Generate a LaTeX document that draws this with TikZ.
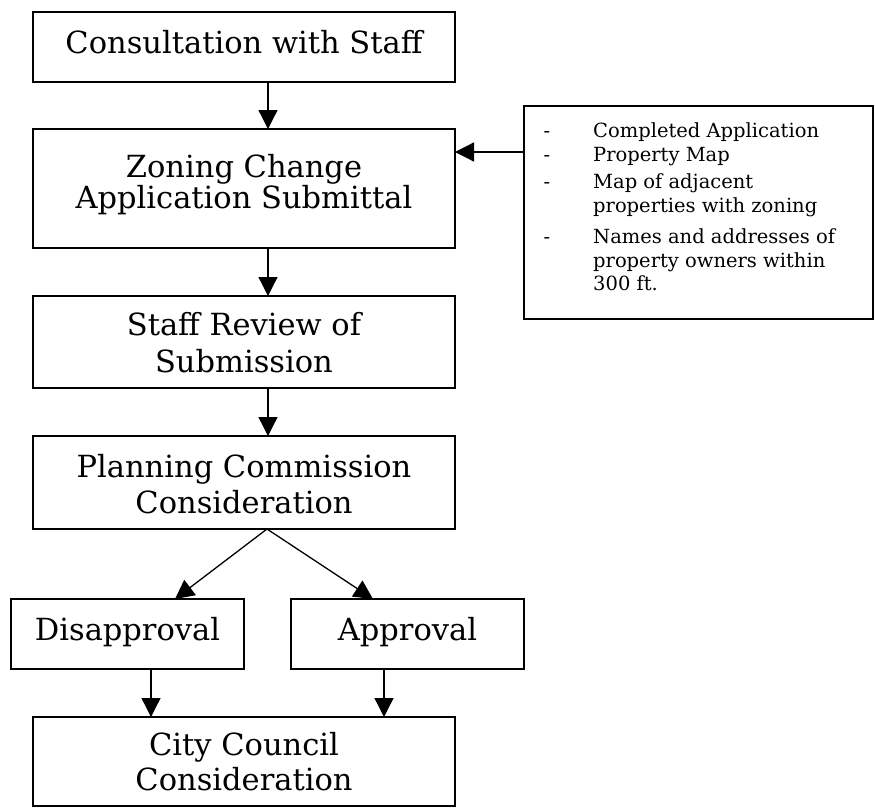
\documentclass[tikz,border=0pt]{standalone}
\usepackage{fontspec}
\setmainfont{DejaVu Serif}
\usetikzlibrary{arrows.meta}
\tikzset{
  box/.style={draw, line width=1.3pt, inner sep=0pt, outer sep=0pt, rectangle},
  big/.style={font=\fontsize{30.5}{36}\selectfont, inner sep=0pt, anchor=base},
  small/.style={font=\fontsize{19.5}{23}\selectfont, inner sep=0pt, anchor=base west},
  dashmark/.style={font=\fontsize{19.5}{23}\selectfont, inner sep=0pt, anchor=base},
  conn/.style={line width=1.3pt, -{Triangle[length=19pt,width=19pt]}},
}
\begin{document}
\begin{tikzpicture}[x=1pt,y=-1pt]
\useasboundingbox (0,0) rectangle (875,808);
% boxes
\node[box, minimum width=422pt, minimum height=70pt] (b1) at (244,47) {};
\node[box, minimum width=422pt, minimum height=119pt] (b2) at (244,188.5) {};
\node[box, minimum width=422pt, minimum height=92pt] (b3) at (244,342) {};
\node[box, minimum width=422pt, minimum height=93pt] (b4) at (244,482.5) {};
\node[box, minimum width=233pt, minimum height=70pt] (dis) at (127.5,634) {};
\node[box, minimum width=233pt, minimum height=70pt] (app) at (407.5,634) {};
\node[box, minimum width=422pt, minimum height=89pt] (cc) at (244,761.5) {};
\node[box, minimum width=349pt, minimum height=213pt] (list) at (698.5,212.5) {};
% texts
\node[big] (t1) at (244,53) {Consultation with Staff};
\node[big] (t2a) at (244,177) {Zoning Change};
\node[big] (t2b) at (244,208) {Application Submittal};
\node[big] (t3a) at (244,335) {Staff Review of};
\node[big] (t3b) at (244,372) {Submission};
\node[big] (t4a) at (244,477) {Planning Commission};
\node[big] (t4b) at (244,513) {Consideration};
\node[big] (t5) at (127.5,640) {Disapproval};
\node[big] (t6) at (407.5,640) {Approval};
\node[big] (t7a) at (244,755) {City Council};
\node[big] (t7b) at (244,790) {Consideration};
% list
\node[dashmark] (d1) at (547,137) {-};
\node[dashmark] (d2) at (547,161) {-};
\node[dashmark] (d3) at (547,188) {-};
\node[dashmark] (d4) at (547,243) {-};
\node[small] (l1) at (593,137) {Completed Application};
\node[small] (l2) at (593,161) {Property Map};
\node[small] (l3) at (593,188) {Map of adjacent};
\node[small] (l4) at (593,212) {properties with zoning};
\node[small] (l5) at (593,243) {Names and addresses of};
\node[small] (l6) at (593,267) {property owners within};
\node[small] (l7) at (593,290) {300 ft.};
% helper coordinates
\coordinate (ax) at (268,0);
\coordinate (ay) at (0,152);
\coordinate (apex) at (267,529);
\coordinate (tl) at (175,0);
\coordinate (tr) at (373,0);
\coordinate (dx) at (151,0);
\coordinate (px) at (384,0);
% connectors
\draw[conn] (b1.south -| ax) -- (b2.north -| ax);
\draw[conn] (b2.south -| ax) -- (b3.north -| ax);
\draw[conn] (b3.south -| ax) -- (b4.north -| ax);
\draw[conn] (list.west |- ay) -- (b2.east |- ay);
\draw[conn] (apex) -- (dis.north -| tl);
\draw[conn] (apex) -- (app.north -| tr);
\draw[conn] (dis.south -| dx) -- (cc.north -| dx);
\draw[conn] (app.south -| px) -- (cc.north -| px);
\end{tikzpicture}
\end{document}
